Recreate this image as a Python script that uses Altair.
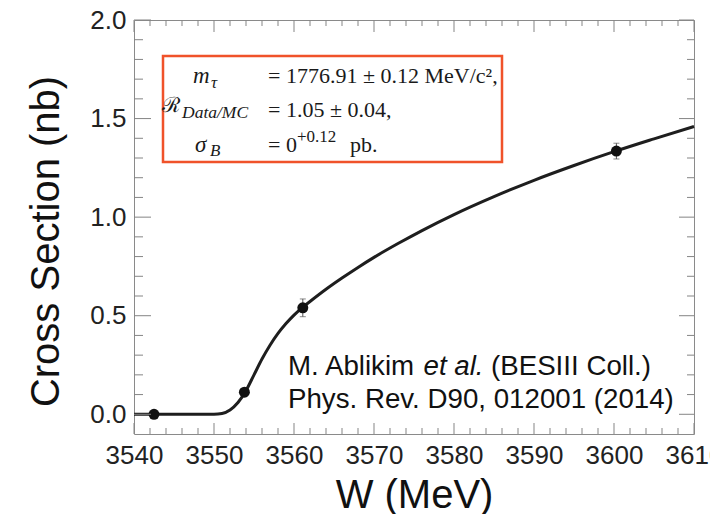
import altair as alt
import pandas as pd

# ---- data ----
curve_w = [3540, 3545, 3550, 3551, 3552, 3553, 3554, 3555, 3556, 3557, 3558, 3559,
           3560, 3561, 3562, 3564, 3566, 3568, 3570, 3573, 3576, 3580, 3585, 3590,
           3595, 3600, 3605, 3610]
curve_xs = [0.0, 0.0, 0.0, 0.004, 0.022, 0.06, 0.12, 0.20, 0.28, 0.35, 0.41, 0.46,
            0.503, 0.54, 0.572, 0.634, 0.691, 0.745, 0.796, 0.866, 0.932, 1.013, 1.104,
            1.187, 1.262, 1.332, 1.397, 1.46]

pt_w = [3542.5, 3553.8, 3561.1, 3600.3]
pt_xs = [0.0, 0.112, 0.54, 1.335]
pt_err = [0.0, 0.0, 0.045, 0.04]

x_major = [3540, 3550, 3560, 3570, 3580, 3590, 3600, 3610]
x_minor = [3542, 3544, 3546, 3548, 3552, 3554, 3556, 3558, 3562, 3564, 3566, 3568,
           3572, 3574, 3576, 3578, 3582, 3584, 3586, 3588, 3592, 3594, 3596, 3598,
           3602, 3604, 3606, 3608]
y_major = [0.0, 0.5, 1.0, 1.5, 2.0]
y_minor = [0.1, 0.2, 0.3, 0.4, 0.6, 0.7, 0.8, 0.9, 1.1, 1.2, 1.3, 1.4, 1.6, 1.7, 1.8, 1.9]

x_title = "W (MeV)"
y_title = "Cross Section (nb)"

W, H = 560, 414

curve_df = pd.DataFrame({"w": curve_w, "xs": curve_xs})
pts_df = pd.DataFrame({"w": pt_w, "xs": pt_xs, "err": pt_err})
pts_df["lo"] = pts_df["xs"] - pts_df["err"]
pts_df["hi"] = pts_df["xs"] + pts_df["err"]
err_df = pts_df[pts_df["err"] > 0]
caps_df = pd.concat([
    pd.DataFrame({"w": err_df["w"], "v": err_df["lo"]}),
    pd.DataFrame({"w": err_df["w"], "v": err_df["hi"]}),
])

xs = alt.Scale(domain=[3540, 3610], nice=False, zero=False)
ys = alt.Scale(domain=[-0.1, 2.0], nice=False, zero=False)

TICK_COLOR = "#858585"

# curve carries the labelled axes
curve = alt.Chart(curve_df).mark_line(color="#1e1e1e", strokeWidth=3,
                                      interpolate="monotone").encode(
    x=alt.X("w:Q", scale=xs, axis=alt.Axis(
        orient="bottom", values=x_major, format="d", ticks=False, tickSize=0,
        domain=False, grid=False, labelFlush=False, labelFont="Liberation Sans",
        labelFontSize=26, labelPadding=8, labelColor="#222",
        title=x_title, titleFont="Liberation Sans", titleFontSize=40,
        titleFontWeight="normal", titleColor="#111", titleX=W / 2, titleY=73,
        titleBaseline="alphabetic", titleAlign="center")),
    y=alt.Y("xs:Q", scale=ys, axis=alt.Axis(
        orient="left", values=y_major, format=".1f", ticks=False, tickSize=0,
        domain=False, grid=False, labelFont="Liberation Sans", labelFontSize=26,
        labelPadding=8, labelColor="#222",
        title=y_title, titleFont="Liberation Sans", titleFontSize=40,
        titleFontWeight="normal", titleColor="#111", titleX=-76, titleY=H / 2 + 14,
        titleAngle=270, titleBaseline="alphabetic", titleAlign="center")),
)

rules = alt.Chart(err_df).mark_rule(color="#555", strokeWidth=1).encode(
    x=alt.X("w:Q", scale=xs, axis=None),
    y=alt.Y("lo:Q", scale=ys, axis=None),
    y2="hi:Q",
)

caps = alt.Chart(caps_df).mark_tick(color="#555", orient="horizontal", size=6,
                                    thickness=1).encode(
    x=alt.X("w:Q", scale=xs, axis=None),
    y=alt.Y("v:Q", scale=ys, axis=None),
)

points = alt.Chart(pts_df).mark_circle(size=120, color="#111", opacity=1).encode(
    x=alt.X("w:Q", scale=xs, axis=None),
    y=alt.Y("xs:Q", scale=ys, axis=None),
)


# inward frame ticks, placed by the scales from the tick value lists
def xticks(values, y0, y1):
    return alt.Chart(pd.DataFrame({"v": values})).mark_rule(
        color=TICK_COLOR, strokeWidth=1).encode(
        x=alt.X("v:Q", scale=xs, axis=None), y=alt.value(y0), y2=alt.value(y1))


def yticks(values, x0, x1):
    return alt.Chart(pd.DataFrame({"v": values})).mark_rule(
        color=TICK_COLOR, strokeWidth=1).encode(
        y=alt.Y("v:Q", scale=ys, axis=None), x=alt.value(x0), x2=alt.value(x1))


tick_layers = [
    xticks(x_major, H, H - 11), xticks(x_minor, H, H - 6),
    xticks(x_major, 0, 12), xticks(x_minor, 0, 6),
    yticks(y_major, 0, 17), yticks(y_minor, 0, 9),
    yticks(y_major, W, W - 15), yticks(y_minor, W, W - 7),
]

box = alt.Chart(alt.Data(values=[{}])).mark_rect(
    filled=False, stroke="#f0522a", strokeWidth=2.5).encode(
    x=alt.value(29), x2=alt.value(368), y=alt.value(36), y2=alt.value(142))


def txt(s, x, y, size, font="Liberation Serif", style="normal", align="left",
        color="#1a1a1a"):
    return alt.Chart(alt.Data(values=[{}])).mark_text(
        text=s, font=font, fontSize=size, fontStyle=style, align=align,
        baseline="alphabetic", color=color).encode(x=alt.value(x), y=alt.value(y))


CS = 27.7
texts = [
    txt("m", 59, 63, 23, style="italic"),
    txt("τ", 77, 68, 17, style="italic"),
    txt("= 1776.91 ± 0.12 MeV/c²,", 134, 63, 22),
    txt("ℛ", 28, 92, 21, font="DejaVu Serif"),
    txt("Data/MC", 48, 98, 17.5, style="italic"),
    txt("= 1.05 ± 0.04,", 134, 97, 22),
    txt("σ", 61, 132, 23, style="italic"),
    txt("B", 76, 136, 17, style="italic"),
    txt("= 0", 134, 132, 22),
    txt("+0.12", 163, 122, 17),
    txt("pb.", 216, 132, 22),
    txt("M. Ablikim", 154, 355, CS, font="Liberation Sans", color="#111"),
    txt("et al.", 289.5, 355, CS, font="Liberation Sans", style="italic", color="#111"),
    txt("(BESIII Coll.)", 357, 355, CS, font="Liberation Sans", color="#111"),
    txt("Phys. Rev. D90, 012001 (2014)", 154, 388, CS, font="Liberation Sans",
        color="#111"),
]

chart = alt.layer(curve, rules, caps, points, *tick_layers, box, *texts).resolve_axis(
    x="independent", y="independent"
).properties(
    width=W, height=H,
    padding={"left": 134, "top": 20, "right": 16, "bottom": 80},
    autosize=alt.AutoSizeParams(type="none"),
    background="white",
).configure_view(stroke="#8a8a8a", strokeWidth=1)

chart.save("out.html", embed_options={"renderer": "svg", "actions": False})
